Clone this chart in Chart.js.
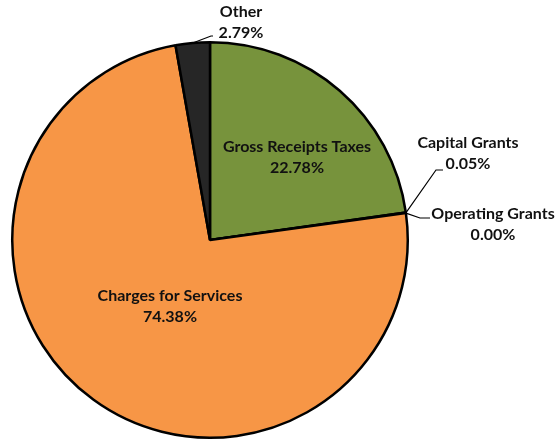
<!DOCTYPE html>
<html lang="en">
<head>
  <meta charset="UTF-8">
  <title>Revenue sources</title>
  <script src="https://cdn.jsdelivr.net/npm/chart.js@4"></script>
  <style>
    * { margin: 0; padding: 0; box-sizing: border-box; }
    body { background: #fff; width: 557px; height: 440px; overflow: hidden; }
    #wrap { position: relative; width: 557px; height: 440px; }
  </style>
</head>
<body>
  <div id="wrap"><canvas id="pie"></canvas></div>
  <script>
    const categories = ['Gross Receipts Taxes', 'Capital Grants', 'Operating Grants', 'Charges for Services', 'Other'];
    const shares = [22.78, 0.05, 0.00, 74.38, 2.79];
    const colors = ['#77933C', '#77933C', '#F79646', '#F79646', '#262626'];

    // label placement: inside = centered text; outside = text block + leader line
    // offsets are relative to the pie centre, in pixels
    const labelSpots = [
      { inside: true, dx: 87, dy: -83 },
      { dx: 258, dy: -87, line: [[226, -70], [233, -70]] },
      { dx: 283, dy: -16, line: [[210, -22], [220, -22]] },
      { inside: true, dx: -40, dy: 66 },
      { dx: 31, dy: -218, line: [[1, -204], [3, -204]] }
    ];

    const labelPlugin = {
      id: 'sliceLabels',
      afterDatasetsDraw(chart) {
        const ctx = chart.ctx;
        const arcs = chart.getDatasetMeta(0).data;
        ctx.save();
        ctx.font = 'bold 16px Lato, "Open Sans", sans-serif';
        ctx.fillStyle = '#111';
        ctx.textAlign = 'center';
        ctx.textBaseline = 'middle';
        arcs.forEach((arc, i) => {
          const spot = labelSpots[i];
          const cx = arc.x, cy = arc.y;
          const pct = shares[i].toFixed(2) + '%';
          if (!spot.inside) {
            const mid = (arc.startAngle + arc.endAngle) / 2;
            const r = arc.outerRadius;
            ctx.beginPath();
            ctx.strokeStyle = '#000';
            ctx.lineWidth = 1.2;
            ctx.moveTo(cx + Math.cos(mid) * r, cy + Math.sin(mid) * r);
            spot.line.forEach(p => ctx.lineTo(cx + p[0], cy + p[1]));
            ctx.stroke();
          }
          ctx.fillText(categories[i], cx + spot.dx, cy + spot.dy - 10);
          ctx.fillText(pct, cx + spot.dx, cy + spot.dy + 11);
        });
        ctx.restore();
      }
    };

    new Chart(document.getElementById('pie'), {
      type: 'pie',
      data: {
        labels: categories,
        datasets: [{
          data: shares,
          backgroundColor: colors,
          borderColor: '#000',
          borderWidth: 2.5
        }]
      },
      options: {
        responsive: true,
        maintainAspectRatio: false,
        animation: false,
        layout: { padding: { left: 11, top: 41, right: 148, bottom: 1 } },
        plugins: { legend: { display: false }, tooltip: { enabled: false } }
      },
      plugins: [labelPlugin]
    });
  </script>
</body>
</html>
